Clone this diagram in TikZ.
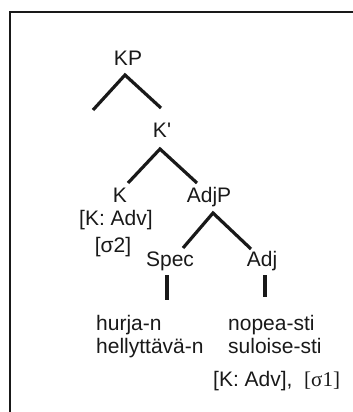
\documentclass[tikz,border=0pt]{standalone}
\usepackage{fontspec}
\setmainfont{Liberation Sans}
\newfontfamily\serifsig{Liberation Serif}
\begin{document}
\begin{tikzpicture}[x=1pt,y=-1pt,
  lbl/.style={inner sep=0pt,anchor=base,font=\fontsize{21}{25}\selectfont,text=black!90},
  lblw/.style={lbl,anchor=base west},
  branch/.style={line width=3.2pt,black!90},
  frame/.style={line width=2.4pt,black!90}]
\useasboundingbox (0,0) rectangle (353,412);
\clip (0,0) rectangle (353,412);
\draw[frame] (10,520) -- (10,12) -- (460,12);
% nodes
\node[lbl] (KP) at (128,66) {KP};
\node[lbl] (Kbar) at (162,137) {K\textquotesingle};
\node[lbl] (K) at (120,202) {K};
\node[lbl] (Kfeat) at (116,225) {[K: Adv]};
\node[lbl] (sig2) at (113,252) {[σ2]};
\node[lbl] (AdjP) at (209,202) {AdjP};
\node[lbl] (Spec) at (170,266) {Spec};
\node[lbl] (Adj) at (262,266) {Adj};
\node[lblw] (w1) at (96,330) {hurja-n};
\node[lblw] (w2) at (96,353) {hellyttävä-n};
\node[lblw] (w3) at (228,330) {nopea-sti};
\node[lblw] (w4) at (228,353) {suloise-sti};
\node[lblw] (w5) at (213,386) {[K: Adv],\ \ {\serifsig[σ1]}};
% branch points
\coordinate (KPa) at (125,75);
\coordinate (KPl) at (93,110);
\coordinate (KPr) at (161,108);
\coordinate (Kba) at (160,149);
\coordinate (Kbl) at (128,183);
\coordinate (Kbr) at (197,183);
\coordinate (Aa) at (213,213);
\coordinate (Al) at (183,248);
\coordinate (Ar) at (251,249);
\coordinate (St) at (167,275);
\coordinate (Sb) at (167,300);
\coordinate (At) at (265,275);
\coordinate (Ab) at (265,297);
\draw[branch] (KPl) -- (KPa) -- (KPr);
\draw[branch] (Kbl) -- (Kba) -- (Kbr);
\draw[branch] (Al) -- (Aa) -- (Ar);
\draw[branch] (St) -- (Sb);
\draw[branch] (At) -- (Ab);
\end{tikzpicture}
\end{document}
